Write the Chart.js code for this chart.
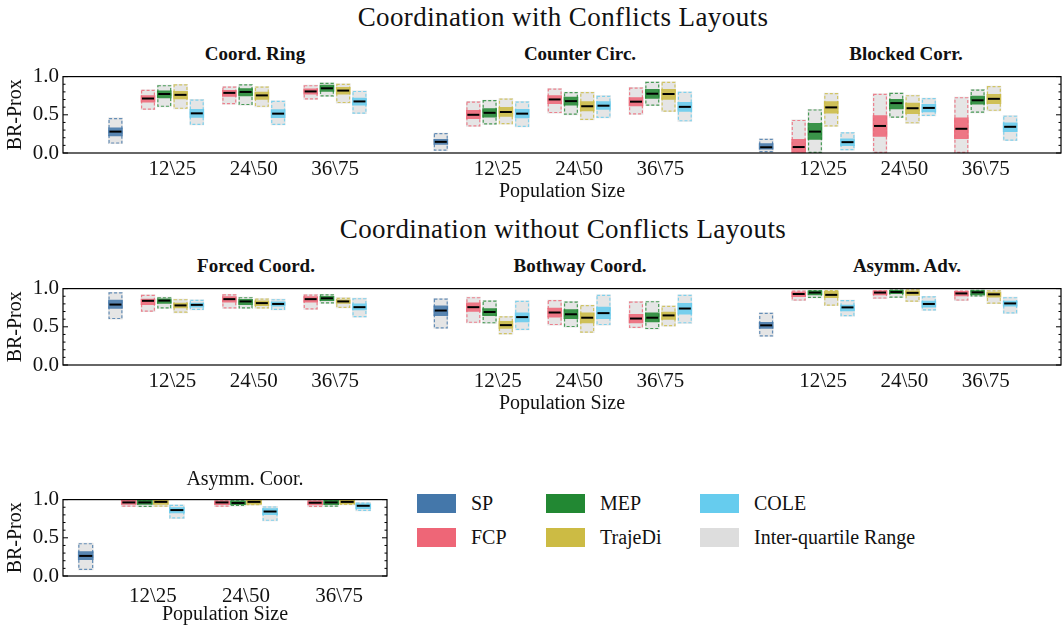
<!DOCTYPE html>
<html>
<head>
<meta charset="utf-8">
<script src="https://cdn.jsdelivr.net/npm/chart.js@4.4.1/dist/chart.umd.min.js"></script>
<style>
  body { margin: 0; background: #fff; }
  #fig { position: relative; width: 1063px; height: 629px; font-family: 'Liberation Serif', serif; color: #111; overflow: hidden; }
  #fig canvas { position: absolute; }
  .lbl { position: absolute; white-space: nowrap; transform: translateX(-50%); line-height: 1; }
  .sup { font-size: 27px; letter-spacing: 0.4px; }
  .sub { font-size: 19px; font-weight: bold; }
  .plain { font-size: 20px; z-index: 2; }
  .key { position: absolute; display: flex; align-items: center; height: 19px; font-size: 20px; white-space: nowrap; }
  .key span { display: inline-block; width: 39px; height: 19px; margin-right: 15px; }
</style>
</head>
<body>
<div id="fig">
  <div class="lbl sup" style="left:563px;top:4px">Coordination with Conflicts Layouts</div>
  <div class="lbl sup" style="left:563px;top:216px">Coordination without Conflicts Layouts</div>

  <div class="lbl sub" style="left:255px;top:44px">Coord. Ring</div>
  <div class="lbl sub" style="left:580px;top:44px">Counter Circ.</div>
  <div class="lbl sub" style="left:906px;top:44px">Blocked Corr.</div>
  <div class="lbl sub" style="left:256px;top:256px">Forced Coord.</div>
  <div class="lbl sub" style="left:580px;top:256px">Bothway Coord.</div>
  <div class="lbl sub" style="left:907px;top:256px">Asymm. Adv.</div>

  <canvas id="row1" width="1063" height="145" style="left:0;top:60px"></canvas>
  <canvas id="row2" width="1063" height="145" style="left:0;top:272px"></canvas>
  <canvas id="row3" width="390" height="145" style="left:0;top:483px"></canvas>
  <div class="lbl plain" style="left:245px;top:468px">Asymm. Coor.</div>

  <div class="key" style="left:417px;top:494px"><span style="background:#4477AA"></span>SP</div>
  <div class="key" style="left:417px;top:528px"><span style="background:#EE6677"></span>FCP</div>
  <div class="key" style="left:546px;top:494px"><span style="background:#228833"></span>MEP</div>
  <div class="key" style="left:546px;top:528px"><span style="background:#CCBB44"></span>TrajeDi</div>
  <div class="key" style="left:700px;top:494px"><span style="background:#66CCEE"></span>COLE</div>
  <div class="key" style="left:700px;top:528px"><span style="background:#DDDDDD"></span>Inter-quartile Range</div>
</div>

<script>
const methods = ['SP', 'FCP', 'MEP', 'TrajeDi', 'COLE'];
const methodColors = ['#4477AA', '#EE6677', '#228833', '#CCBB44', '#66CCEE'];
const popLabels = ['12\\25', '24\\50', '36\\75'];

// each box: [q1, q3, band low, band high, mean]
// order: SP, then FCP, MEP, TrajeDi, COLE for 12\25, 24\50, 36\75
const coordRing = [
  [0.123, 0.459, 0.224, 0.328, 0.28],
  [0.567, 0.828, 0.664, 0.75, 0.713], [0.604, 0.888, 0.72, 0.813, 0.772], [0.578, 0.899, 0.709, 0.806, 0.761], [0.366, 0.701, 0.466, 0.571, 0.519],
  [0.638, 0.869, 0.739, 0.821, 0.787], [0.627, 0.899, 0.746, 0.843, 0.799], [0.604, 0.869, 0.701, 0.799, 0.754], [0.366, 0.683, 0.463, 0.567, 0.515],
  [0.701, 0.888, 0.769, 0.84, 0.806], [0.739, 0.918, 0.806, 0.888, 0.847], [0.653, 0.907, 0.769, 0.858, 0.817], [0.515, 0.813, 0.627, 0.72, 0.675]
];
const counterCirc = [
  [0.03, 0.261, 0.112, 0.179, 0.146],
  [0.347, 0.675, 0.448, 0.56, 0.5], [0.373, 0.694, 0.47, 0.582, 0.526], [0.377, 0.713, 0.478, 0.597, 0.537], [0.34, 0.675, 0.459, 0.571, 0.515],
  [0.522, 0.843, 0.646, 0.75, 0.701], [0.5, 0.799, 0.627, 0.731, 0.679], [0.433, 0.799, 0.552, 0.672, 0.612], [0.459, 0.75, 0.571, 0.672, 0.619],
  [0.504, 0.858, 0.616, 0.724, 0.672], [0.619, 0.933, 0.716, 0.832, 0.776], [0.541, 0.933, 0.701, 0.832, 0.772], [0.414, 0.802, 0.545, 0.664, 0.604]
];
const blockedCorr = [
  [0.011, 0.187, 0.049, 0.123, 0.075],
  [0, 0.433, 0, 0.179, 0.078], [0, 0.571, 0.179, 0.388, 0.28], [0.347, 0.784, 0.522, 0.672, 0.597], [0.037, 0.272, 0.097, 0.187, 0.142],
  [0, 0.776, 0.216, 0.489, 0.354], [0.463, 0.787, 0.578, 0.701, 0.653], [0.388, 0.757, 0.515, 0.653, 0.586], [0.485, 0.72, 0.537, 0.638, 0.59],
  [0, 0.731, 0.187, 0.459, 0.317], [0.526, 0.832, 0.638, 0.746, 0.69], [0.552, 0.877, 0.646, 0.769, 0.709], [0.16, 0.489, 0.28, 0.396, 0.343]
];
const forcedCoord = [
  [0.601, 0.951, 0.739, 0.851, 0.791],
  [0.698, 0.918, 0.791, 0.862, 0.84], [0.739, 0.888, 0.806, 0.866, 0.843], [0.683, 0.862, 0.746, 0.81, 0.78], [0.72, 0.854, 0.757, 0.81, 0.787],
  [0.739, 0.925, 0.821, 0.896, 0.862], [0.739, 0.888, 0.791, 0.858, 0.832], [0.739, 0.869, 0.776, 0.84, 0.81], [0.72, 0.862, 0.769, 0.828, 0.799],
  [0.728, 0.922, 0.821, 0.896, 0.862], [0.806, 0.925, 0.843, 0.899, 0.873], [0.746, 0.881, 0.806, 0.854, 0.832], [0.625, 0.875, 0.72, 0.8, 0.757]
];
const bothwayCoord = [
  [0.478, 0.869, 0.646, 0.776, 0.713],
  [0.552, 0.888, 0.701, 0.813, 0.757], [0.545, 0.843, 0.646, 0.739, 0.694], [0.403, 0.638, 0.478, 0.571, 0.522], [0.459, 0.84, 0.563, 0.683, 0.627],
  [0.522, 0.851, 0.627, 0.746, 0.687], [0.496, 0.832, 0.608, 0.724, 0.664], [0.422, 0.784, 0.552, 0.683, 0.619], [0.522, 0.918, 0.608, 0.757, 0.679],
  [0.485, 0.832, 0.552, 0.664, 0.608], [0.47, 0.836, 0.563, 0.683, 0.619], [0.507, 0.776, 0.597, 0.694, 0.649], [0.545, 0.918, 0.664, 0.806, 0.739]
];
const asymmAdv = [
  [0.373, 0.683, 0.478, 0.56, 0.519],
  [0.843, 0.974, 0.896, 0.955, 0.929], [0.877, 0.981, 0.918, 0.97, 0.948], [0.776, 0.981, 0.881, 0.963, 0.918], [0.638, 0.851, 0.709, 0.784, 0.754],
  [0.869, 0.978, 0.918, 0.97, 0.948], [0.881, 0.989, 0.933, 0.978, 0.955], [0.828, 0.993, 0.91, 0.97, 0.944], [0.713, 0.899, 0.757, 0.836, 0.799],
  [0.843, 0.974, 0.903, 0.963, 0.937], [0.896, 0.985, 0.918, 0.974, 0.951], [0.802, 0.978, 0.888, 0.955, 0.925], [0.675, 0.888, 0.769, 0.836, 0.806]
];
const asymmCoor = [
  [0.078, 0.43, 0.215, 0.319, 0.263],
  [0.907, 1.0, 0.937, 0.993, 0.963], [0.904, 1.0, 0.937, 0.993, 0.963], [0.907, 1.0, 0.937, 0.993, 0.97], [0.752, 0.933, 0.826, 0.896, 0.863],
  [0.907, 1.0, 0.933, 0.985, 0.963], [0.915, 1.0, 0.933, 0.985, 0.956], [0.926, 1.0, 0.941, 0.993, 0.97], [0.722, 0.911, 0.804, 0.881, 0.844],
  [0.904, 1.0, 0.93, 0.985, 0.959], [0.907, 1.0, 0.933, 0.993, 0.963], [0.93, 1.0, 0.944, 0.993, 0.97], [0.852, 0.963, 0.881, 0.944, 0.919]
];

const FONT = 'Liberation Serif';
const INK = '#111';

function rgba(hex, a) {
  const n = parseInt(hex.slice(1), 16);
  return `rgba(${n >> 16},${(n >> 8) & 255},${n & 255},${a})`;
}

const boxDecor = {
  id: 'boxDecor',
  afterDatasetsDraw(chart) {
    const ctx = chart.ctx;
    const ys = chart.scales.y;
    const area = chart.chartArea;
    ctx.save();
    // dashed outline of the inter-quartile boxes
    chart.data.datasets.forEach((ds, i) => {
      if (ds.kind !== 'iqr') return;
      ctx.setLineDash([3, 2]);
      ctx.lineWidth = 1.2;
      ctx.strokeStyle = rgba(ds.baseColor, 0.8);
      chart.getDatasetMeta(i).data.forEach(bar => {
        const p = bar.getProps(['x', 'y', 'base', 'width'], true);
        const top = Math.min(p.y, p.base), bot = Math.max(p.y, p.base);
        ctx.strokeRect(p.x - p.width / 2 + 0.6, top + 0.6, p.width - 1.2, bot - top - 1.2);
      });
    });
    // mean lines
    ctx.setLineDash([]);
    ctx.strokeStyle = '#000';
    ctx.lineWidth = 2;
    chart.data.datasets.forEach((ds, i) => {
      if (ds.kind !== 'band') return;
      chart.getDatasetMeta(i).data.forEach((bar, j) => {
        const p = bar.getProps(['x', 'width'], true);
        const py = ys.getPixelForValue(ds.means[j]);
        ctx.beginPath();
        ctx.moveTo(p.x - p.width / 2 + 1, py);
        ctx.lineTo(p.x + p.width / 2 - 1, py);
        ctx.stroke();
      });
    });
    // frame and inward y ticks
    ctx.strokeStyle = '#000';
    ctx.lineWidth = 1.2;
    ctx.strokeRect(area.left, area.top, area.right - area.left, area.bottom - area.top);
    ctx.lineWidth = 1;
    for (let k = 0; k <= 10; k++) {
      const py = ys.getPixelForValue(k / 10);
      const len = k % 5 === 0 ? 5 : 2.5;
      ctx.beginPath();
      ctx.moveTo(area.left, py); ctx.lineTo(area.left + len, py);
      ctx.moveTo(area.right, py); ctx.lineTo(area.right - len, py);
      ctx.stroke();
    }
    ctx.restore();
  }
};

function makeRow(id, panels, cfg) {
  const datasets = [];
  const tickVals = [];
  panels.forEach((_, k) => popLabels.forEach((_, g) => tickVals.push(k * cfg.panelGap + cfg.groupStart + g)));

  methods.forEach((name, m) => {
    const iqr = [], band = [], means = [];
    panels.forEach((boxes, k) => {
      const origin = k * cfg.panelGap;
      const picks = m === 0
        ? [[0, origin]]
        : popLabels.map((_, g) => [1 + g * 4 + (m - 1), origin + cfg.groupStart + g + cfg.offsets[m - 1]]);
      picks.forEach(([b, x]) => {
        const [q1, q3, lo, hi, mean] = boxes[b];
        iqr.push({ x, y: [q1, q3] });
        band.push({ x, y: [lo, hi] });
        means.push(mean);
      });
    });
    datasets.push({ label: name, kind: 'band', baseColor: methodColors[m], means, data: band,
      backgroundColor: rgba(methodColors[m], 0.88), order: 0 });
    datasets.push({ label: name + ' IQR', kind: 'iqr', baseColor: methodColors[m], data: iqr,
      backgroundColor: '#e5e5e5', order: 1 });
  });

  const noGrid = { display: false, drawTicks: false, tickLength: 0 };

  return new Chart(document.getElementById(id), {
    type: 'bar',
    data: { datasets },
    options: {
      responsive: false,
      animation: false,
      layout: { padding: { top: 3, right: cfg.padRight, left: 0, bottom: 0 } },
      plugins: { legend: { display: false }, tooltip: { enabled: false } },
      datasets: { bar: { grouped: false, barThickness: cfg.barWidth, borderWidth: 0 } },
      scales: {
        x: {
          type: 'linear', min: cfg.xMin, max: cfg.xMax, offset: false,
          grid: noGrid, border: { display: false },
          afterBuildTicks: s => { s.ticks = tickVals.map(v => ({ value: v })); },
          afterFit: s => { s.height = 52; },
          ticks: { autoSkip: false, maxRotation: 0, padding: cfg.tickPad, color: INK,
            font: { family: FONT, size: 21 }, callback: (v, i) => popLabels[i % 3] },
          title: { display: true, text: 'Population Size', color: INK,
            font: { family: FONT, size: 20 }, padding: { top: 0, bottom: 1 } }
        },
        y: {
          min: 0, max: 1,
          grid: noGrid, border: { display: false },
          afterFit: s => { s.width = 63; },
          ticks: { stepSize: 0.5, padding: 4, color: INK, font: { family: FONT, size: 21 },
            callback: v => v.toFixed(1) },
          title: { display: true, text: 'BR-Prox', color: INK,
            font: { family: FONT, size: 20 }, padding: { top: 4, bottom: 0 } }
        }
      }
    },
    plugins: [boxDecor]
  });
}

const wideRow = { panelGap: 4, groupStart: 0.7, offsets: [-0.3, -0.1, 0.1, 0.3],
  xMin: -0.645, xMax: 11.625, barWidth: 14, padRight: 2, tickPad: 4 };

makeRow('row1', [coordRing, counterCirc, blockedCorr], wideRow);
makeRow('row2', [forcedCoord, bothwayCoord, asymmAdv], wideRow);
makeRow('row3', [asymmCoor], { panelGap: 4, groupStart: 0.72, offsets: [-0.258, -0.086, 0.086, 0.258],
  xMin: -0.244, xMax: 3.233, barWidth: 15, padRight: 3, tickPad: 8 });
</script>
</body>
</html>
